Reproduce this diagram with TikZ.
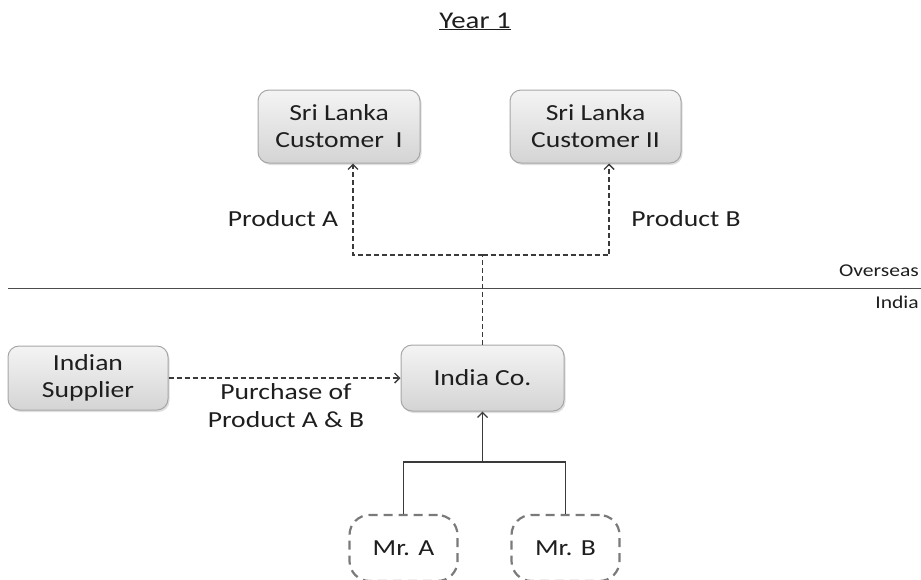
\documentclass[tikz,border=0pt]{standalone}
\usepackage{fontspec}
\setmainfont{Carlito}[FakeStretch=1.2]
\usetikzlibrary{arrows.meta,shadows,calc}

\definecolor{boxline}{HTML}{A6A6A6}
\definecolor{boxtop}{HTML}{F4F4F4}
\definecolor{boxbot}{HTML}{D4D4D4}
\definecolor{wire}{HTML}{3A3A3A}
\definecolor{persline}{HTML}{7A7A7A}
\definecolor{ink}{HTML}{1E1E1E}

\tikzset{
  every node/.style={text=ink},
  entity/.style={draw=boxline, line width=1pt, rounded corners=11pt,
    top color=boxtop, bottom color=boxbot, align=center, inner sep=0pt,
    font=\fontsize{23}{27}\selectfont,
    drop shadow={shadow xshift=1.5pt, shadow yshift=-2pt, opacity=0.25}},
  person/.style={draw=persline, line width=2.2pt, dash pattern=on 9pt off 6pt,
    rounded corners=20pt, align=center, inner sep=0pt,
    font=\fontsize{23}{27}\selectfont, minimum width=108pt, minimum height=66pt},
  label/.style={font=\fontsize{23}{28}\selectfont, align=center},
  flow/.style={draw=wire, line width=1.5pt, dash pattern=on 5pt off 3pt},
  flowarrow/.style={flow, -{Straight Barb[length=5pt,width=10pt,line width=1.4pt]}},
  owner/.style={draw=wire, line width=1.5pt},
  ownerarrow/.style={owner, -{Straight Barb[length=5pt,width=10pt,line width=1.4pt]}},
  region/.style={font=\fontsize{18}{21}\selectfont, anchor=base east, inner sep=0pt},
}

\begin{document}
\begin{tikzpicture}[x=1pt,y=-1pt]
\useasboundingbox (0,0) rectangle (921,579);
\clip (0,0) rectangle (921,579);

% heading
\node[font=\fontsize{24}{28}\selectfont, anchor=base, inner sep=0pt] (title) at (475,28) {\underline{Year 1}};

% overseas customers
\node[entity, minimum width=162pt, minimum height=73pt] (c1) at (339,126.5)
  {Sri Lanka\\Customer\enspace I};
\node[entity, minimum width=171pt, minimum height=73pt] (c2) at (595.5,126.5)
  {Sri Lanka\\Customer II};

% border between overseas and India
\coordinate (bl) at (8,288.5);
\coordinate (br) at (921,288.5);
\draw[draw=black!70, line width=1.4pt] (bl) -- (br);
\node[region] (ovs) at (919,276) {Overseas};
\node[region] (ind) at (919,308) {India};

% Indian entities
\node[entity, minimum width=160pt, minimum height=64pt] (sup) at (88,378)
  {Indian\\Supplier};
\node[entity, minimum width=163pt, minimum height=66pt] (ic) at (482.5,378)
  {India Co.};

% shareholders
\node[person] (ma) at (403.5,548) {Mr. A};
\node[person] (mb) at (565.5,548) {Mr. B};

% sales flows to Sri Lanka
\coordinate (split) at (482.5,255);
\draw[flow] (ic.north) -- (split);
\draw[flowarrow] (split) -| ([xshift=14pt]c1.south);
\draw[flowarrow] (split) -| ([xshift=13.5pt]c2.south);
\node[label] (pa) at (283,219) {Product A};
\node[label] (pb) at (686,219) {Product B};

% purchase from supplier
\draw[flowarrow] (sup.east) -- (ic.west);
\node[label] (pur) at (286,406) {Purchase of\\Product A \& B};

% ownership
\coordinate (own) at (482.5,462);
\draw[owner] (ma.north) |- (own) -| (mb.north);
\draw[ownerarrow] (own) -- (ic.south);
\end{tikzpicture}
\end{document}
